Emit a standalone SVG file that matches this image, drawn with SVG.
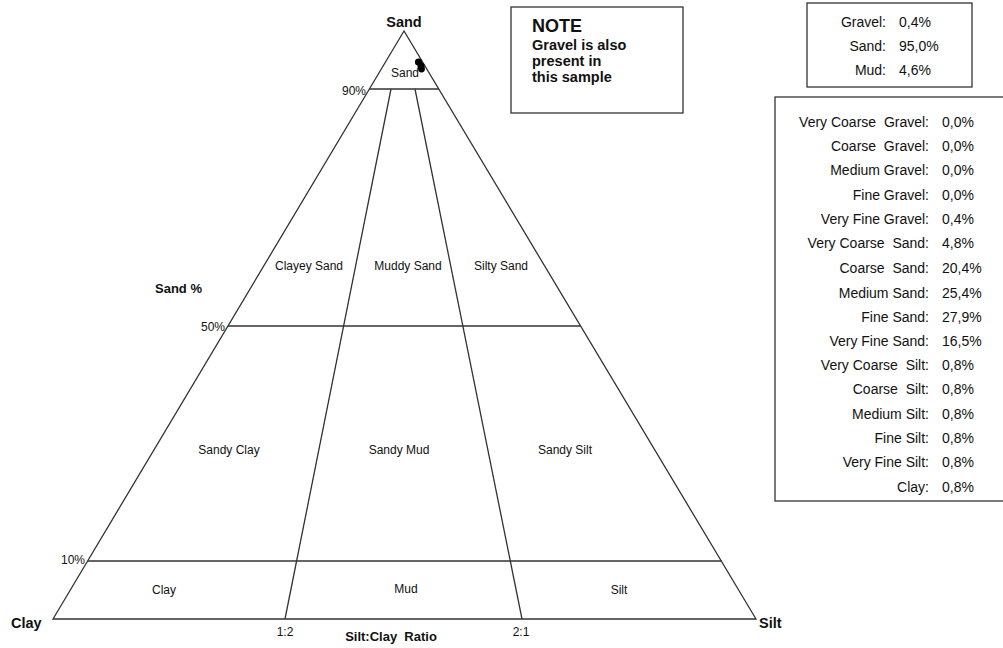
<svg xmlns="http://www.w3.org/2000/svg" width="1003" height="648" viewBox="0 0 1003 648">
<style>
.ln{stroke:#333;stroke-width:1.3;fill:none}
.box{stroke:#333;stroke-width:1.3;fill:#fff}
text{font-family:"Liberation Sans",Arial,sans-serif;fill:#111;white-space:pre}
.b{font-weight:bold}
.rg{font-size:12px;text-anchor:middle}
.tk{font-size:12px}
.tb{font-size:14px}
.r{text-anchor:end}
.m{text-anchor:middle}
</style>
<rect width="1003" height="648" fill="#fff"/>
<g id="triangle">
<polygon class="ln" points="404,31 53,619 756,619"/>
</g>
<g id="connectors">
<line class="ln" x1="369" y1="89" x2="439" y2="89"/>
<line class="ln" x1="228" y1="326" x2="581" y2="326"/>
<line class="ln" x1="88" y1="561" x2="722" y2="561"/>
<line class="ln" x1="285" y1="619" x2="391" y2="89"/>
<line class="ln" x1="522" y1="619" x2="415" y2="89"/>
</g>
<g id="vertex-labels">
<text class="b m" x="404" y="27" font-size="14.5">Sand</text>
<text class="b" x="11" y="628" font-size="14.5">Clay</text>
<text class="b" x="759" y="628" font-size="14.5">Silt</text>
<text class="b" x="155" y="293" font-size="13">Sand %</text>
<text class="b m" x="391" y="641" font-size="13">Silt:Clay  Ratio</text>
</g>
<g id="ticks">
<text class="tk r" x="366" y="95">90%</text>
<text class="tk r" x="225" y="331">50%</text>
<text class="tk r" x="85" y="564">10%</text>
<text class="tk m" x="285" y="636">1:2</text>
<text class="tk m" x="521" y="636">2:1</text>
</g>
<g id="region-sand"><text class="rg" x="405" y="77">Sand</text></g>
<g id="region-clayey-sand"><text class="rg" x="309" y="270">Clayey Sand</text></g>
<g id="region-muddy-sand"><text class="rg" x="408" y="270">Muddy Sand</text></g>
<g id="region-silty-sand"><text class="rg" x="501" y="270">Silty Sand</text></g>
<g id="region-sandy-clay"><text class="rg" x="229" y="454">Sandy Clay</text></g>
<g id="region-sandy-mud"><text class="rg" x="399" y="454">Sandy Mud</text></g>
<g id="region-sandy-silt"><text class="rg" x="565" y="454">Sandy Silt</text></g>
<g id="region-clay"><text class="rg" x="164" y="594">Clay</text></g>
<g id="region-mud"><text class="rg" x="406" y="593">Mud</text></g>
<g id="region-silt"><text class="rg" x="619" y="594">Silt</text></g>
<g id="sample-point" fill="#000">
<circle cx="418.5" cy="62" r="3.6"/>
<circle cx="421" cy="66" r="3.6"/>
<circle cx="421.5" cy="69" r="3.4"/>
</g>
<g id="note">
<rect class="box" x="511" y="7" width="172" height="106"/>
<text class="b" x="532" y="32" font-size="18">NOTE</text>
<text class="b" x="532" y="50" font-size="14.5">Gravel is also</text>
<text class="b" x="532" y="66" font-size="14.5">present in</text>
<text class="b" x="532" y="82" font-size="14.5">this sample</text>
</g>
<g id="summary">
<rect class="box" x="807" y="3" width="165" height="84"/>
<text class="tb r" x="886" y="27">Gravel:</text><text class="tb" x="899" y="27">0,4%</text>
<text class="tb r" x="886" y="51">Sand:</text><text class="tb" x="899" y="51">95,0%</text>
<text class="tb r" x="886" y="75">Mud:</text><text class="tb" x="899" y="75">4,6%</text>
</g>
<g id="fractions">
<rect class="box" x="775" y="97" width="229" height="404"/>
<text class="tb r" x="929" y="127">Very Coarse  Gravel:</text><text class="tb" x="942" y="127">0,0%</text>
<text class="tb r" x="929" y="151">Coarse  Gravel:</text><text class="tb" x="942" y="151">0,0%</text>
<text class="tb r" x="929" y="175">Medium Gravel:</text><text class="tb" x="942" y="175">0,0%</text>
<text class="tb r" x="929" y="200">Fine Gravel:</text><text class="tb" x="942" y="200">0,0%</text>
<text class="tb r" x="929" y="224">Very Fine Gravel:</text><text class="tb" x="942" y="224">0,4%</text>
<text class="tb r" x="929" y="248">Very Coarse  Sand:</text><text class="tb" x="942" y="248">4,8%</text>
<text class="tb r" x="929" y="273">Coarse  Sand:</text><text class="tb" x="942" y="273">20,4%</text>
<text class="tb r" x="929" y="298">Medium Sand:</text><text class="tb" x="942" y="298">25,4%</text>
<text class="tb r" x="929" y="322">Fine Sand:</text><text class="tb" x="942" y="322">27,9%</text>
<text class="tb r" x="929" y="346">Very Fine Sand:</text><text class="tb" x="942" y="346">16,5%</text>
<text class="tb r" x="929" y="370">Very Coarse  Silt:</text><text class="tb" x="942" y="370">0,8%</text>
<text class="tb r" x="929" y="394">Coarse  Silt:</text><text class="tb" x="942" y="394">0,8%</text>
<text class="tb r" x="929" y="419">Medium Silt:</text><text class="tb" x="942" y="419">0,8%</text>
<text class="tb r" x="929" y="443">Fine Silt:</text><text class="tb" x="942" y="443">0,8%</text>
<text class="tb r" x="929" y="467">Very Fine Silt:</text><text class="tb" x="942" y="467">0,8%</text>
<text class="tb r" x="929" y="492">Clay:</text><text class="tb" x="942" y="492">0,8%</text>
</g>
</svg>
